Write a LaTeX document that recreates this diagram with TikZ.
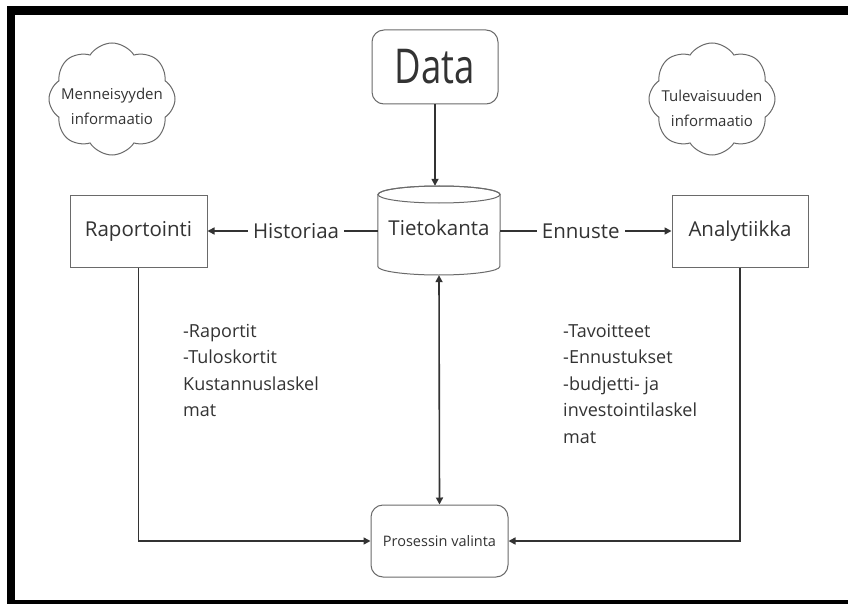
\documentclass[tikz,border=0pt]{standalone}
\usepackage{fontspec}
\setmainfont{Open Sans}
\usetikzlibrary{arrows.meta,shapes.symbols}
\definecolor{ink}{HTML}{333333}
\definecolor{edgegray}{HTML}{6A6A6A}
\tikzset{
  conn/.style={draw=ink, line width=1.6pt, -{Triangle[length=7pt,width=7pt]}},
  plainbox/.style={draw=edgegray, line width=1pt, text=ink, inner sep=0pt},
  roundbox/.style={plainbox, rounded corners=12pt},
  lbl/.style={text=ink, font=\fontsize{20.5}{24}\selectfont, inner sep=0pt},
  lsttxt/.style={text=ink, font=\fontsize{18}{22}\selectfont, inner sep=0pt, anchor=base west},
  cloudnode/.style={cloud, cloud puffs=8, cloud puff arc=115, aspect=1.1, draw=edgegray, line width=1pt,
     minimum width=126pt, minimum height=112pt, inner sep=0pt},
  cloudtxt/.style={text=ink, align=center, inner sep=0pt, font=\fontsize{15}{25}\selectfont},
  onpath/.style={fill=white, text=ink, font=\fontsize{20.5}{24}\selectfont, inner sep=5pt}
}
\begin{document}
\begin{tikzpicture}[x=1pt,y=-1pt]
\useasboundingbox (0,0) rectangle (848,604);
\fill[white] (0,0) rectangle (848,604);
% frame
\fill[black] (7,6) rectangle (848,15);
\fill[black] (7,6) rectangle (15,604);
\fill[black] (7,600) rectangle (848,604);

% clouds
\node[cloudnode] (cl) at (112,99) {};
\node[cloudtxt] (clt) at (112,106) {Menneisyyden\\informaatio};
\node[cloudnode] (cr) at (712,99) {};
\node[cloudtxt] (crt) at (712,108) {Tulevaisuuden\\informaatio};

% Data
\node[roundbox, minimum width=126pt, minimum height=74pt] (data) at (435,67)
  {\fontsize{48}{52}\selectfont\scalebox{0.76}[1]{Data}};

% database cylinder
\node[draw=none, minimum width=122pt, minimum height=89pt, inner sep=0pt] (db) at (439,230.5) {};
\draw[edgegray, line width=1pt, fill=white]
  (db.west |- 0,194.5) -- (db.west |- 0,266.5)
  arc[start angle=180, end angle=360, x radius=61pt, y radius=8.5pt]
  -- (db.east |- 0,194.5)
  arc[start angle=0, end angle=180, x radius=61pt, y radius=8.5pt] -- cycle;
\draw[edgegray, line width=1pt] (439,194.5) ellipse [x radius=61pt, y radius=8.5pt];
\node[lbl] (dbt) at (439,228) {Tietokanta};

% side boxes
\node[plainbox, minimum width=137pt, minimum height=71pt] (rap) at (138.5,231.5) {\fontsize{20.5}{24}\selectfont Raportointi};
\node[plainbox, minimum width=136pt, minimum height=71pt] (ana) at (740,231.5) {\fontsize{20.5}{24}\selectfont Analytiikka};

% process
\node[roundbox, minimum width=137pt, minimum height=72pt] (pro) at (439.5,541)
  {\fontsize{14.5}{17}\selectfont Prosessin valinta};

% connectors
\draw[conn] (data.south) -- (data.south |- db.north);
\draw[conn] (db.west |- 0,231) -- node[onpath, pos=0.48]{Historiaa} (rap.east |- 0,231);
\draw[conn] (db.east |- 0,231) -- node[onpath, pos=0.47]{Ennuste} (ana.west |- 0,231);
\draw[conn, {Triangle[length=7pt,width=7pt]}-{Triangle[length=7pt,width=7pt]}] (db.south) -- (pro.north);
\draw[conn] (rap.south) |- (pro.west);
\draw[conn] (ana.south) |- (pro.east);

% lists
\node[lsttxt] (l1) at (183,337) {-Raportit};
\node[lsttxt] (l2) at (183,363.5) {-Tuloskortit};
\node[lsttxt] (l3) at (183,390) {Kustannuslaskel};
\node[lsttxt] (l4) at (183,416.5) {mat};

\node[lsttxt] (r1) at (563,337) {-Tavoitteet};
\node[lsttxt] (r2) at (563,363.5) {-Ennustukset};
\node[lsttxt] (r3) at (563,390) {-budjetti- ja};
\node[lsttxt] (r4) at (563,416.5) {investointilaskel};
\node[lsttxt] (r5) at (563,443) {mat};
\end{tikzpicture}
\end{document}
